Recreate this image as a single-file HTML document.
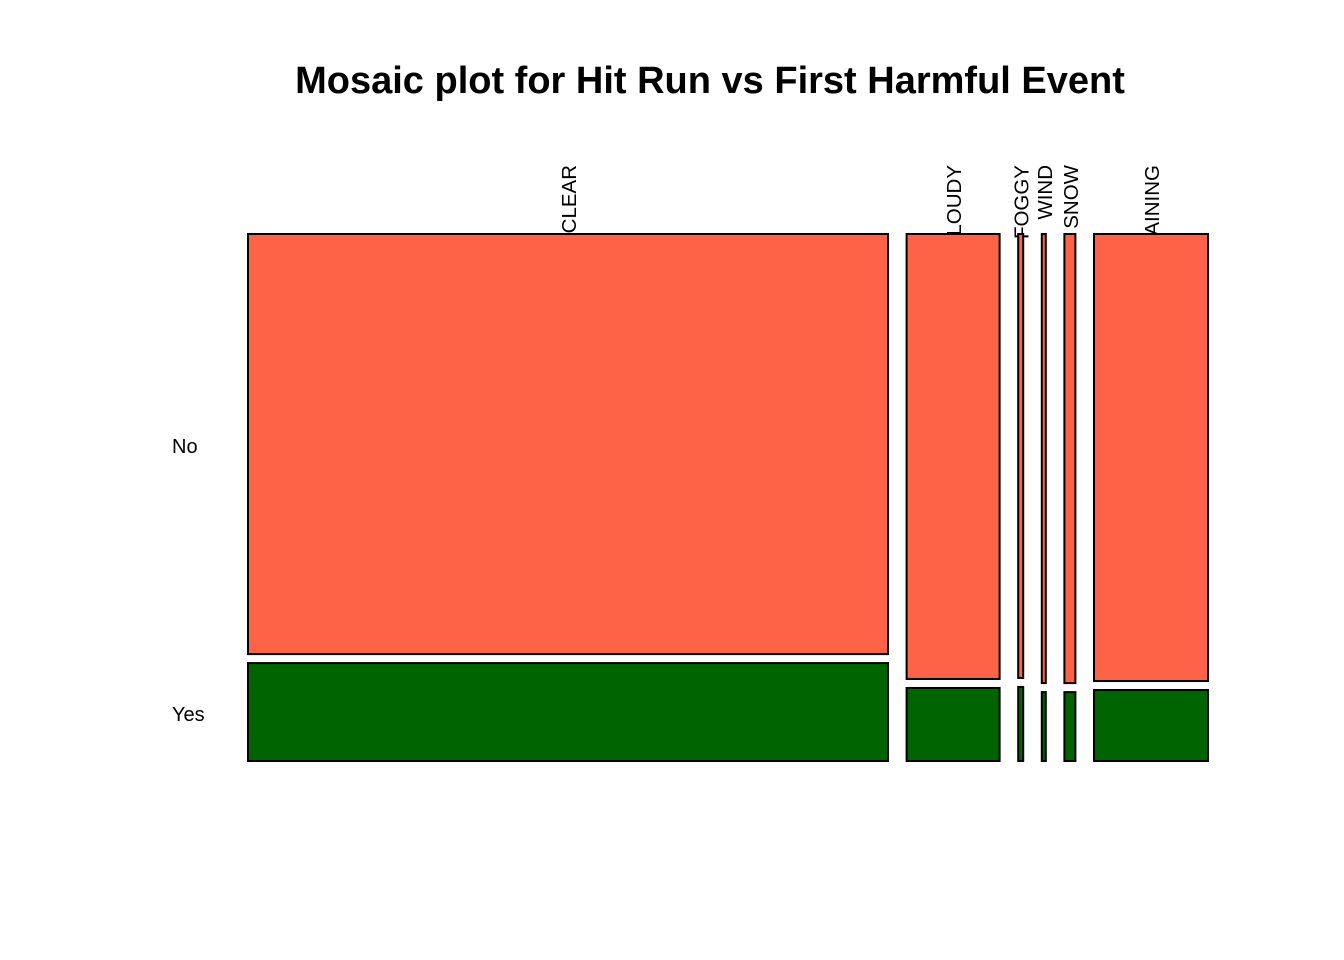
<!DOCTYPE html>
<html><head><meta charset="utf-8"><style>
html,body{margin:0;padding:0;background:#fff}
svg{display:block;font-family:"Liberation Sans",Arial,sans-serif}
</style></head><body>
<svg id="chart" width="1344" height="960">
<text x="710" y="93" text-anchor="middle" font-size="38" font-weight="bold">Mosaic plot for Hit Run vs First Harmful Event</text>
<g id="labels"></g>
<g id="tiles"></g>
</svg>
<script>
const categories = ["CLEAR","CLOUDY","FOGGY","WIND","SNOW","RAINING"];
const columnTotals = [640, 93, 5, 4, 11, 114];
const noFractions = [0.811, 0.859, 0.857, 0.867, 0.867, 0.863];
const rowLabels = ["No","Yes"];

const svgEl = document.getElementById('chart');
const NS = 'http://www.w3.org/2000/svg';
const plotLeft = 248, plotRight = 1208, plotTop = 234, plotBottom = 761, gapX = 18.6, gapY = 9;
const total = columnTotals.reduce((a,b)=>a+b,0);
const availW = (plotRight-plotLeft) - gapX*(categories.length-1);
const availH = (plotBottom-plotTop) - gapY;
const xScale = v => v/total*availW;
const yScale = f => f*availH;

const labelsG = document.getElementById('labels');
const tilesG = document.getElementById('tiles');
let xPos = plotLeft;
categories.forEach((c,i)=>{
  const w = xScale(columnTotals[i]);
  const cx = xPos + w/2;
  const t = document.createElementNS(NS,'text');
  
  
  t.setAttribute('x', 0); t.setAttribute('y', 0);
  t.setAttribute('text-anchor','end');
  t.setAttribute('font-size','20.5');
  t.setAttribute('transform', `translate(${cx+8},165) rotate(-90)`);
  t.textContent = c;
  labelsG.appendChild(t);

  const hNo = yScale(noFractions[i]);
  const r1 = document.createElementNS(NS,'rect');
  
  
  r1.setAttribute('x', xPos); r1.setAttribute('y', plotTop);
  r1.setAttribute('width', w); r1.setAttribute('height', hNo);
  r1.setAttribute('fill','#FF6347'); r1.setAttribute('stroke','#000'); r1.setAttribute('stroke-width','2');
  tilesG.appendChild(r1);
  const y2 = plotTop + hNo + gapY;
  const r2 = document.createElementNS(NS,'rect');
  
  
  r2.setAttribute('x', xPos); r2.setAttribute('y', y2);
  r2.setAttribute('width', w); r2.setAttribute('height', plotBottom - y2);
  r2.setAttribute('fill','#006400'); r2.setAttribute('stroke','#000'); r2.setAttribute('stroke-width','2');
  tilesG.appendChild(r2);
  xPos += w + gapX;
});

const rowY = [plotTop + yScale(noFractions[0])/2, (plotTop + yScale(noFractions[0]) + gapY + plotBottom)/2];
rowLabels.forEach((l,i)=>{
  const t = document.createElementNS(NS,'text');
  
  
  t.setAttribute('x', 172); t.setAttribute('y', rowY[i]+9);
  t.setAttribute('font-size','20');
  t.textContent = l;
  svgEl.appendChild(t);
});
</script>
</body></html>
